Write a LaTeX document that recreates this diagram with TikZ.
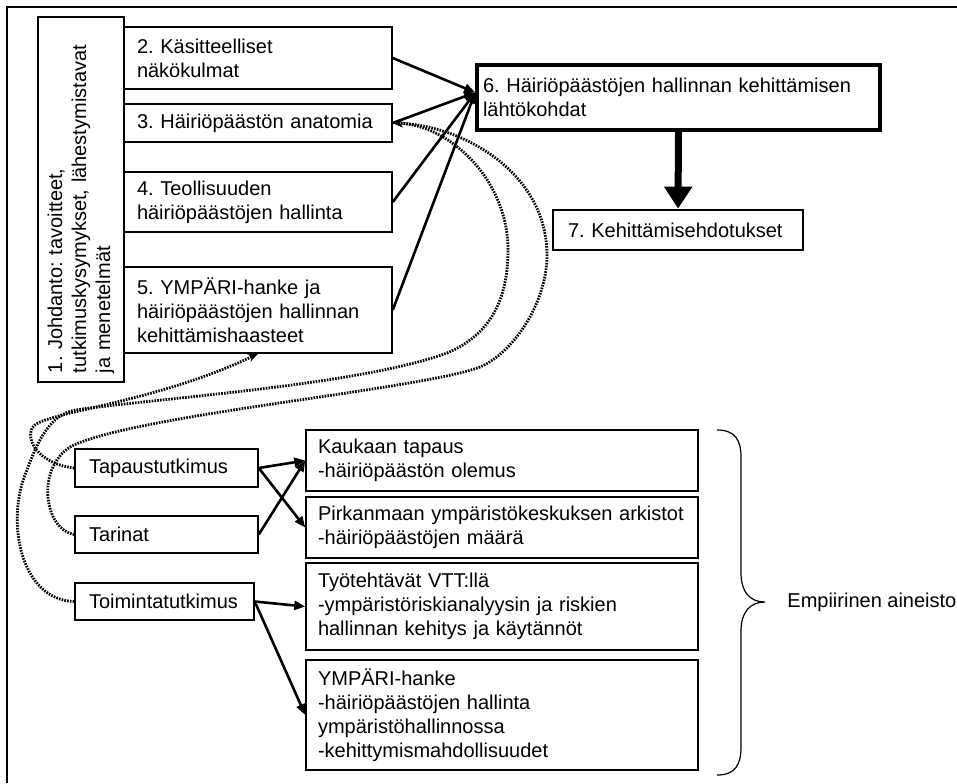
\documentclass[tikz,border=0pt]{standalone}
\usepackage{fontspec}
\setmainfont{Liberation Sans}
\frenchspacing
\usetikzlibrary{arrows.meta}
\tikzset{
    box/.style={
        rectangle, draw=black, line width=0.75pt, text=black,
        font=\normalsize, align=left, inner xsep=6.5pt, inner ysep=0pt
    },
    chapbox/.style={box, text width=121pt},
    mainbox/.style={box, line width=1.75pt, inner xsep=3pt},
    sumbox/.style={box, line width=1.4pt, inner xsep=7.5pt},
    methodbox/.style={box, inner xsep=7pt},
    databox/.style={box, text width=184pt, inner xsep=6pt},
    arrow/.style={-{Triangle[length=5.5pt,width=4.5pt]}, line width=1.3pt},
    bigarrow/.style={-{Triangle[length=11pt,width=13.5pt]}, line width=3.5pt},
    dotarrow/.style={-{Stealth[length=5pt,width=4pt]}, line width=1.4pt, dash pattern=on 0.8pt off 0.6pt},
    frame/.style={line width=1pt},
    bracket/.style={line width=0.6pt},
}

\begin{document}
\begin{tikzpicture}[x=0.5pt, y=-0.5pt]
    \useasboundingbox (0,0) rectangle (957,783);
    \draw[frame] (7,783) -- (7,7) -- (957,7);

    % chapters
    \node[box, rotate=90, minimum width=182.5pt, minimum height=43pt, text width=173.5pt, inner xsep=4.5pt] (intro) at (81,199.5) {1. Johdanto: tavoitteet,\\tutkimuskysymykset, lähestymistavat\\ja menetelmät};
    \node[chapbox, minimum height=31pt] (concept) at (258,58) {2. Käsitteelliset\\näkökulmat};
    \node[chapbox, minimum height=19pt] (anatomy) at (258,123) {3. Häiriöpäästön anatomia};
    \node[chapbox, minimum height=30pt] (industry) at (258,202) {4. Teollisuuden\\häiriöpäästöjen hallinta};
    \node[chapbox, minimum height=43pt] (ympari) at (258,310) {5. YMPÄRI-hanke ja\\häiriöpäästöjen hallinnan\\kehittämishaasteet};

    \node[mainbox, text width=195.5pt, minimum height=32.5pt] (basis) at (678.5,97.5) {6. Häiriöpäästöjen hallinnan kehittämisen\\lähtökohdat};
    \node[sumbox, text width=110pt, minimum height=20pt] (proposals) at (678,230) {7. Kehittämisehdotukset};

    % methods and data
    \node[methodbox, text width=77.5pt, minimum height=19pt] (casestudy) at (166.5,468) {Tapaustutkimus};
    \node[methodbox, text width=77.5pt, minimum height=18.5pt] (stories) at (166.5,534.5) {Tarinat};
    \node[methodbox, text width=75.5pt, minimum height=18.5pt] (action) at (164.5,601.5) {Toimintatutkimus};

    \node[databox, minimum height=30.5pt] (kaukaa) at (502,460.5) {Kaukaan tapaus\\-häiriöpäästön olemus};
    \node[databox, minimum height=30.5pt] (archive) at (502,527.5) {Pirkanmaan ympäristökeskuksen arkistot\\-häiriöpäästöjen määrä};
    \node[databox, minimum height=43.5pt] (vtt) at (502,606.5) {Työtehtävät VTT:llä\\-ympäristöriskianalyysin ja riskien\\hallinnan kehitys ja käytännöt};
    \node[databox, minimum height=55pt] (project) at (502,715) {YMPÄRI-hanke\\-häiriöpäästöjen hallinta\\ympäristöhallinnossa\\-kehittymismahdollisuudet};

    \node[anchor=west, inner sep=0pt] (empirical) at (787,602) {Empiirinen aineisto};

    \draw[arrow] (concept.east) -- ([yshift=2.5pt]basis.west);
    \draw[arrow] (anatomy.east) -- ([yshift=2.5pt]basis.west);
    \draw[arrow] (industry.east) -- ([yshift=2.5pt]basis.west);
    \draw[arrow] (ympari.east) -- ([yshift=2.5pt]basis.west);
    \draw[bigarrow] (basis.south) -- (proposals.north);

    \draw[arrow] (casestudy.east) -- (kaukaa.west);
    \draw[arrow] (casestudy.east) -- (archive.west);
    \draw[arrow] (stories.east) -- (kaukaa.west);
    \draw[arrow] (action.east) -- (vtt.west);
    \draw[arrow] (action.east) -- (project.west);

    % dotted links back to the chapters
    \draw[dotarrow] (casestudy.west) .. controls (45,465) and (25,445) .. (32,428) .. controls (40,412) and (150,405) .. (ympari.south);
    \draw[dotarrow] (action.west) .. controls (20,600) and (5,520) .. (27,470) .. controls (38,440) and (50,415) .. (75,410) .. controls (160,398) and (360,385) .. (447,353) .. controls (490,335) and (508,300) .. (508,250) .. controls (508,180) and (450,125) .. (anatomy.east);
    \draw[dotarrow] (stories.west) .. controls (45,530) and (35,470) .. (70,447) .. controls (130,415) and (420,390) .. (480,367) .. controls (515,352) and (548,300) .. (547,253) .. controls (545,170) and (460,125) .. (anatomy.east);

    \draw[bracket] (717,430) .. controls (735,430) and (741,440) .. (741,457) -- (741,573) .. controls (741,592) and (750,602) .. (765,602) .. controls (750,602) and (741,612) .. (741,631) -- (741,747) .. controls (741,765) and (735,775) .. (717,775);
\end{tikzpicture}
\end{document}
